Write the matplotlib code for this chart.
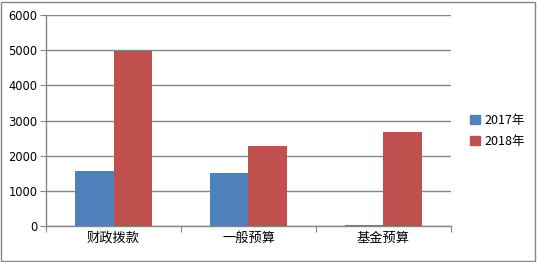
import matplotlib
matplotlib.use("Agg")
import matplotlib.pyplot as plt
import numpy as np
from matplotlib.patches import Rectangle, Patch

plt.rcParams['font.family'] = ['Noto Sans CJK SC', 'DejaVu Sans']

categories = ["财政拨款", "一般预算", "基金预算"]
series_names = ["2017年", "2018年"]
values_2017 = [1570, 1510, 30]
values_2018 = [4990, 2270, 2670]
yticks = [0, 1000, 2000, 3000, 4000, 5000, 6000]

BLUE = "#4f81bd"
RED = "#c0504d"
GRID = "#868686"

fig = plt.figure(figsize=(5.37, 2.62), dpi=100)
fig.patches.append(Rectangle((0.002, 0.004), 0.994, 0.99, transform=fig.transFigure,
                             fill=False, edgecolor="#868686", linewidth=1.0))
ax = fig.add_axes([0.0857, 0.1374, 0.754, 0.8053])

x = np.arange(len(categories))
w = 0.285
ax.bar(x - w / 2, values_2017, w, color=BLUE, label=series_names[0], zorder=3)
ax.bar(x + w / 2, values_2018, w, color=RED, label=series_names[1], zorder=3)

ax.set_xlim(-0.5, len(categories) - 0.5)
ax.set_ylim(0, 6000)
ax.set_yticks(yticks)
ax.set_yticklabels([str(v) for v in yticks], fontsize=8.3, family="DejaVu Sans")
ax.yaxis.grid(True, color=GRID, linewidth=1.0, zorder=0)
ax.set_axisbelow(True)

ax.set_xticks(np.arange(-0.5, len(categories)))
ax.set_xticklabels([])
ax.set_xticks(x, minor=True)
ax.set_xticklabels(categories, minor=True, fontsize=9.5)
ax.tick_params(axis="x", which="minor", length=0, pad=4)
ax.tick_params(axis="x", which="major", length=4, color=GRID, direction="out")
ax.tick_params(axis="y", length=4, color=GRID, direction="out", pad=2)

for s in ["top", "right"]:
    ax.spines[s].set_visible(False)
for s in ["left", "bottom"]:
    ax.spines[s].set_color(GRID)
    ax.spines[s].set_linewidth(1.0)

handles = [Patch(color=BLUE), Patch(color=RED)]
fig.legend(handles, series_names, loc="center left", bbox_to_anchor=(0.855, 0.5),
           frameon=False, fontsize=9, handlelength=0.75, handleheight=0.75,
           handletextpad=0.4, labelspacing=0.6)

fig.savefig("out.png", dpi=100)
